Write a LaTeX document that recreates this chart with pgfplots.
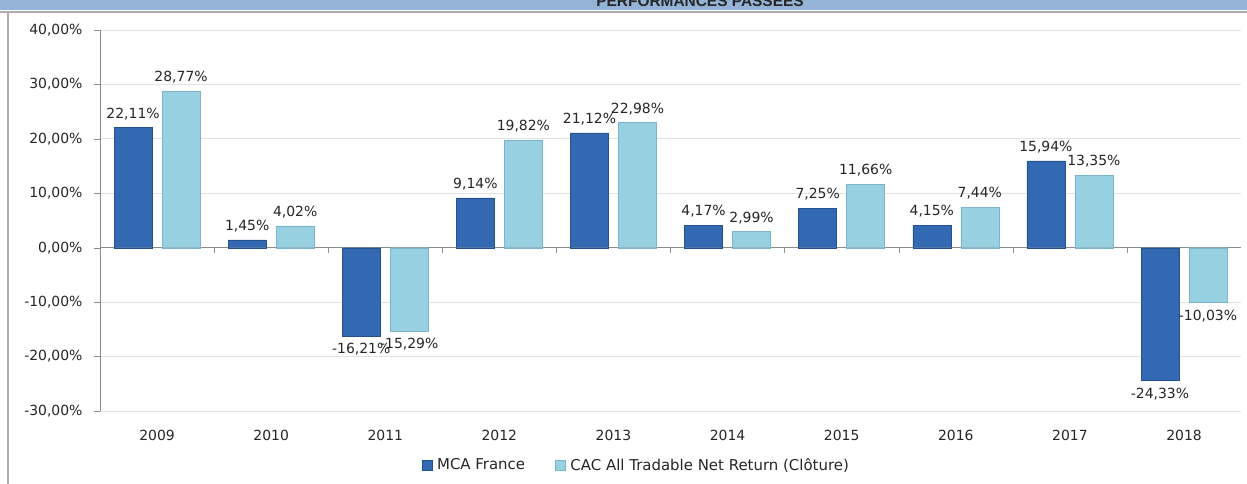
\documentclass[border=0pt]{standalone}
\usepackage{pgfplots}
\pgfplotsset{compat=1.18}
\usepackage{pgfplotstable}
\usepackage{fontspec}
\setmainfont{DejaVu Sans}
\newfontfamily\titlefont{Liberation Sans}

\definecolor{band}{HTML}{95B3D7}
\definecolor{mcaedge}{HTML}{24528F}
\definecolor{mcafill}{HTML}{3369B2}
\definecolor{cacedge}{HTML}{7AB6CB}
\definecolor{cacfill}{HTML}{96D0E1}
\definecolor{gridgray}{HTML}{E3E3E3}
\definecolor{axisgray}{HTML}{8C8C8C}
\definecolor{labeltext}{HTML}{262626}

% performances annuelles (%)
\pgfplotstableread{
x  mca     cac
0  22.11   28.77
1  1.45    4.02
2  -16.21  -15.29
3  9.14    19.82
4  21.12   22.98
5  4.17    2.99
6  7.25    11.66
7  4.15    7.44
8  15.94   13.35
9  -24.33  -10.03
}\perf

\begin{document}
\begin{tikzpicture}
\useasboundingbox (0bp,0bp) rectangle (1247bp,484bp);
\fill[white] (0bp,0bp) rectangle (1247bp,484bp);
\fill[band] (0bp,474bp) rectangle (1247bp,484bp);
\draw[line width=2bp, gray!65] (0bp,472bp) -- (1247bp,472bp);
\draw[line width=1.2bp, gray!65] (8bp,472bp) -- (8bp,0bp);
\node[font=\titlefont\bfseries\fontsize{15.5}{18}\selectfont, anchor=base, text=black!85]
  at (700bp,477.5bp) {PERFORMANCES PASSEES};

\begin{axis}[
    at={(100bp,73bp)}, anchor=south west,
    width=1141bp, height=381bp, scale only axis,
    xmin=-0.5, xmax=9.5,
    ymin=-30, ymax=40,
    ytick={-30,-20,...,40},
    xtick={0,...,9},
    xticklabels={2009,2010,2011,2012,2013,2014,2015,2016,2017,2018},
    axis lines*=left,
    x axis line style={draw=none},
    y axis line style={axisgray},
    xtick style={draw=none},
    ytick style={axisgray},
    tick align=outside,
    major tick length=6bp,
    ymajorgrids,
    grid style={gridgray, line width=0.8bp},
    extra y ticks={0},
    extra y tick labels={},
    extra y tick style={grid style={axisgray, line width=0.8bp}},
    /pgf/number format/assume math mode=true,
    tick label style={font=\fontsize{14}{16}\selectfont, text=labeltext},
    yticklabel={\pgfmathprintnumber[fixed,fixed zerofill,precision=2,use comma]{\tick}\%},
    yticklabel style={xshift=-8bp},
    xticklabel style={yshift=-10bp},
    ybar=10bp,
    bar width=38bp,
    nodes near coords={\pgfmathprintnumber[fixed,fixed zerofill,precision=2,use comma]{\pgfplotspointmeta}\%},
    nodes near coords align=vertical,
    every node near coord/.append style={font=\fontsize{14}{16}\selectfont, text=labeltext, inner sep=7.5bp},
    legend style={at={(0.47,-0.142)}, anchor=center, draw=none, fill=none,
        legend columns=-1, font=\fontsize{15}{17}\selectfont, text=labeltext,
        /tikz/every odd column/.append style={column sep=3bp},
        /tikz/every even column/.append style={column sep=28bp}},
    legend image code/.code={\fill[#1] (0bp,-5bp) rectangle (10bp,5bp);},
]
\addplot[draw=mcaedge, fill=mcafill]
    table[x=x, y=mca] {\perf};
\addlegendentry{MCA France}
\addplot[draw=cacedge, fill=cacfill]
    table[x=x, y=cac] {\perf};
\addlegendentry{CAC All Tradable Net Return (Clôture)}
\pgfplotsinvokeforeach{0.5,1.5,2.5,3.5,4.5,5.5,6.5,7.5,8.5}{
  \draw[axisgray] (axis cs:#1,0) -- ++(0bp,-5bp);
}
\end{axis}
\end{tikzpicture}
\end{document}
